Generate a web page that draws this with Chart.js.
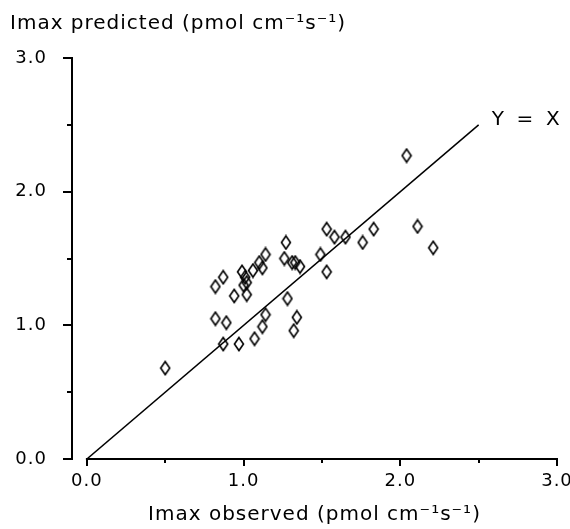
<!DOCTYPE html>
<html>
<head>
<meta charset="utf-8">
<script src="https://cdn.jsdelivr.net/npm/chart.js@4/dist/chart.umd.min.js"></script>
<style>
  html, body { margin: 0; padding: 0; background: #fff; }
</style>
</head>
<body>
<canvas id="chart" width="570" height="529"></canvas>
<script>
// observed vs predicted Imax
const xObserved = [
  0.50, 0.82, 0.89, 0.87, 0.97, 1.07, 1.12, 1.14, 1.28, 1.34, 1.32,
  0.82, 0.87, 0.94, 1.02, 1.00, 1.02, 1.01, 0.99, 1.06, 1.10, 1.12,
  1.14, 1.26, 1.27, 1.31, 1.33, 1.36, 1.49, 1.53, 1.53, 1.58, 1.65,
  1.76, 1.83, 2.04, 2.11, 2.21
];
const yPredicted = [
  0.68, 1.05, 1.02, 0.86, 0.86, 0.90, 0.99, 1.08, 1.20, 1.06, 0.96,
  1.29, 1.36, 1.22, 1.23, 1.30, 1.32, 1.36, 1.40, 1.41, 1.47, 1.43,
  1.53, 1.50, 1.62, 1.47, 1.47, 1.44, 1.53, 1.40, 1.72, 1.66, 1.66,
  1.62, 1.72, 2.27, 1.74, 1.58
];

// identity line Y = X
const lineX = [0, 2.5];
const lineY = [0, 2.5];

const xTicks = [0, 0.5, 1, 1.5, 2, 2.5, 3];
const yTicks = [0, 0.5, 1, 1.5, 2, 2.5, 3];
const tickLabels = ["0.0", "1.0", "2.0", "3.0"];

const FONT = "'DejaVu Sans', sans-serif";

// tall open diamond used as marker
function diamond() {
  const c = document.createElement("canvas");
  c.width = 12; c.height = 16;
  const g = c.getContext("2d");
  g.strokeStyle = "#000";
  g.lineWidth = 1.6;
  g.beginPath();
  g.moveTo(6, 1.5);
  g.lineTo(10.5, 8);
  g.lineTo(6, 14.5);
  g.lineTo(1.5, 8);
  g.closePath();
  g.stroke();
  return c;
}

function label(v) {
  return Number.isInteger(v) ? tickLabels[v] : "";
}

const axesPlugin = {
  id: "axes",
  beforeDraw(chart) {
    chart.ctx.letterSpacing = "1px";
  },
  afterDraw(chart) {
    const { ctx, chartArea, scales: { x, y } } = chart;
    ctx.save();
    ctx.letterSpacing = "0px";
    ctx.strokeStyle = "#000";
    ctx.lineWidth = 2;

    // y axis, offset to the left of x = 0
    const ax = Math.round(chartArea.left);
    ctx.beginPath();
    ctx.moveTo(ax, y.getPixelForValue(0) + 1);
    ctx.lineTo(ax, y.getPixelForValue(3) - 1);
    ctx.stroke();
    ctx.beginPath();
    yTicks.forEach(v => {
      const py = Math.round(y.getPixelForValue(v));
      ctx.moveTo(ax, py);
      ctx.lineTo(ax - (Number.isInteger(v) ? 9 : 5), py);
    });
    ctx.stroke();

    // x axis starts at 0
    const ay = Math.round(chartArea.bottom);
    ctx.beginPath();
    ctx.moveTo(x.getPixelForValue(0) - 1, ay);
    ctx.lineTo(x.getPixelForValue(3) + 1, ay);
    xTicks.forEach(v => {
      const px = Math.round(x.getPixelForValue(v));
      ctx.moveTo(px, ay);
      ctx.lineTo(px, ay + (Number.isInteger(v) ? 7 : 4));
    });
    ctx.stroke();

    ctx.fillStyle = "#000";
    ctx.font = "20px " + FONT;
    ctx.textBaseline = "middle";
    ctx.textAlign = "left";
    ctx.fillText("Y  =  X", x.getPixelForValue(lineX[1]) + 13, y.getPixelForValue(lineY[1]) - 5);
    ctx.restore();
  }
};

new Chart(document.getElementById("chart"), {
  type: "scatter",
  data: {
    datasets: [
      {
        type: "line",
        data: lineX.map((v, i) => ({ x: v, y: lineY[i] })),
        borderColor: "#000",
        borderWidth: 1.5,
        pointRadius: 0,
        fill: false,
      },
      {
        data: xObserved.map((v, i) => ({ x: v, y: yPredicted[i] })),
        pointStyle: diamond(),
      },
    ],
  },
  options: {
    responsive: false,
    devicePixelRatio: 1,
    animation: false,
    layout: { padding: { left: 10, right: 13, top: 0, bottom: 0 } },
    plugins: {
      legend: { display: false },
      tooltip: { enabled: false },
      title: {
        display: true,
        text: "Imax predicted (pmol cm\u207B\u00B9s\u207B\u00B9)",
        align: "start",
        color: "#000",
        font: { family: FONT, size: 20, weight: "normal" },
        padding: { top: 12, bottom: 22 },
      },
    },
    scales: {
      x: {
        type: "linear",
        min: -0.095,
        max: 3,
        afterBuildTicks: s => { s.ticks = xTicks.map(v => ({ value: v })); },
        afterFit: s => { s.height = 70; s.paddingLeft = 0; s.paddingRight = 0; },
        grid: { display: false, drawTicks: false },
        border: { display: false },
        ticks: {
          autoSkip: false,
          maxRotation: 0,
          padding: 12,
          color: "#000",
          font: { family: FONT, size: 18 },
          callback: label,
        },
        title: {
          display: true,
          text: "Imax observed (pmol cm\u207B\u00B9s\u207B\u00B9)",
          color: "#000",
          font: { family: FONT, size: 20 },
          padding: { top: 0, bottom: 2 },
        },
      },
      y: {
        type: "linear",
        min: 0,
        max: 3,
        afterBuildTicks: s => { s.ticks = yTicks.map(v => ({ value: v })); },
        afterFit: s => { s.width = 62; s.paddingTop = 0; s.paddingBottom = 0; },
        grid: { display: false, drawTicks: false },
        border: { display: false },
        ticks: {
          autoSkip: false,
          padding: 25,
          color: "#000",
          font: { family: FONT, size: 18 },
          callback: label,
        },
      },
    },
  },
  plugins: [axesPlugin],
});
</script>
</body>
</html>
